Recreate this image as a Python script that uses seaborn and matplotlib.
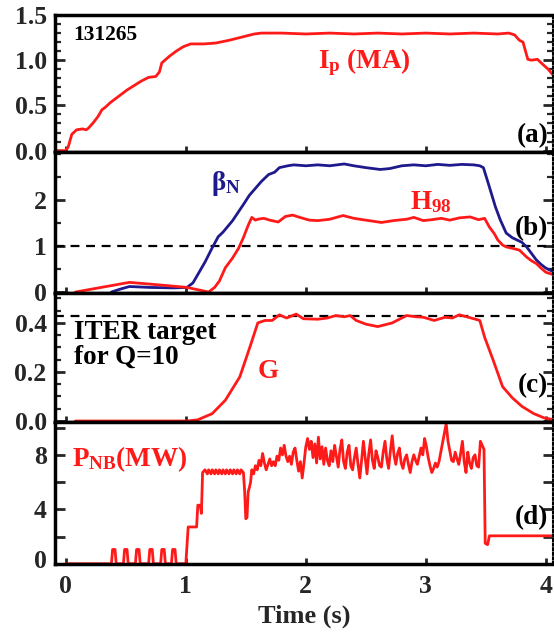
import matplotlib
matplotlib.use("Agg")
import matplotlib.pyplot as plt
import matplotlib.transforms as mtransforms
from matplotlib.ticker import MultipleLocator, FixedLocator
import seaborn as sns

sns.set_style("ticks")
plt.rcParams["font.family"] = ["Liberation Serif", "DejaVu Serif"]
plt.rcParams["font.weight"] = "bold"
plt.rcParams["mathtext.fontset"] = "custom"
plt.rcParams["mathtext.rm"] = "Liberation Serif:bold"
plt.rcParams["mathtext.it"] = "Liberation Serif:bold:italic"
plt.rcParams["mathtext.bf"] = "Liberation Serif:bold"
plt.rcParams["axes.linewidth"] = 2.5

RED = "#ff1a1a"
NAVY = "#1f1a8c"

# ---------------- data ----------------
shot_number = "131265"

ip_t = [-0.09, 0.0, 0.02, 0.05, 0.09, 0.14, 0.17, 0.19, 0.23, 0.27, 0.30, 0.33,
        0.37, 0.42, 0.46, 0.51, 0.57, 0.63, 0.69, 0.75, 0.78, 0.80, 0.86, 0.92,
        0.98, 1.04, 1.15, 1.25, 1.36, 1.45, 1.51, 1.57, 1.63, 1.8, 2.0, 2.2,
        2.4, 2.6, 2.8, 3.0, 3.2, 3.4, 3.6, 3.69, 3.74, 3.78, 3.81, 3.85, 3.88,
        3.93, 3.97, 4.02, 4.07]
ip_v = [0.0, 0.0, 0.04, 0.18, 0.23, 0.24, 0.23, 0.25, 0.31, 0.38, 0.45, 0.48,
        0.53, 0.58, 0.62, 0.67, 0.72, 0.77, 0.81, 0.82, 0.87, 0.97, 1.04, 1.10,
        1.15, 1.18, 1.18, 1.19, 1.22, 1.25, 1.27, 1.29, 1.30, 1.30, 1.29, 1.30,
        1.29, 1.30, 1.29, 1.30, 1.29, 1.30, 1.29, 1.30, 1.28, 1.22, 1.20, 1.01,
        1.00, 1.01, 0.96, 0.90, 0.82]

beta_t = [0.38, 0.45, 0.53, 0.7, 0.9, 1.01, 1.06, 1.1, 1.16, 1.22, 1.27, 1.31,
          1.39, 1.48, 1.53, 1.57, 1.63, 1.69, 1.74, 1.78, 1.85, 1.9, 2.0, 2.1,
          2.2, 2.32, 2.4, 2.5, 2.62, 2.7, 2.8, 2.9, 3.0, 3.1, 3.2, 3.3, 3.4,
          3.45, 3.48, 3.53, 3.58, 3.62, 3.67, 3.72, 3.76, 3.8, 3.84, 3.88, 3.92,
          3.96, 4.0, 4.07]
beta_v = [0.0, 0.06, 0.12, 0.1, 0.09, 0.1, 0.2, 0.38, 0.65, 0.96, 1.2, 1.3,
          1.55, 1.9, 2.1, 2.22, 2.4, 2.55, 2.6, 2.7, 2.74, 2.76, 2.74, 2.76,
          2.74, 2.78, 2.74, 2.70, 2.66, 2.68, 2.74, 2.76, 2.74, 2.77, 2.75,
          2.77, 2.76, 2.74, 2.70, 2.28, 1.85, 1.57, 1.28, 1.18, 1.13, 1.08,
          0.98, 0.84, 0.70, 0.60, 0.52, 0.43]

h98_t = [0.08, 0.53, 0.8, 1.01, 1.19, 1.24, 1.28, 1.33, 1.39, 1.44, 1.48, 1.52,
         1.55, 1.58, 1.6, 1.65, 1.7, 1.77, 1.83, 1.89, 1.95, 2.03, 2.1, 2.2,
         2.31, 2.4, 2.5, 2.63, 2.73, 2.84, 2.9, 2.98, 3.05, 3.13, 3.2, 3.28,
         3.37, 3.44, 3.49, 3.53, 3.57, 3.6, 3.64, 3.67, 3.72, 3.78, 3.84, 3.88,
         3.92, 3.96, 4.0, 4.07]
h98_v = [0.0, 0.21, 0.15, 0.1, 0.0, 0.1, 0.24, 0.53, 0.74, 0.95, 1.18, 1.45,
         1.62, 1.56, 1.58, 1.6, 1.56, 1.52, 1.64, 1.67, 1.62, 1.56, 1.55, 1.58,
         1.66, 1.6, 1.56, 1.51, 1.55, 1.58, 1.62, 1.55, 1.57, 1.60, 1.56, 1.61,
         1.63, 1.57, 1.6, 1.41, 1.27, 1.13, 1.02, 0.98, 0.95, 0.91, 0.76, 0.68,
         0.62, 0.52, 0.43, 0.37]

g_t = [0.08, 1.01, 1.1, 1.22, 1.33, 1.45, 1.54, 1.6, 1.66, 1.72, 1.78, 1.84,
       1.92, 1.98, 2.1, 2.18, 2.25, 2.32, 2.37, 2.42, 2.5, 2.6, 2.72, 2.84,
       2.92, 2.98, 3.07, 3.16, 3.22, 3.28, 3.34, 3.4, 3.45, 3.49, 3.56, 3.64,
       3.72, 3.8, 3.9, 3.99, 4.07]
g_v = [0.0, 0.0, 0.005, 0.03, 0.085, 0.18, 0.31, 0.40, 0.41, 0.41, 0.433,
       0.42, 0.436, 0.417, 0.415, 0.42, 0.43, 0.425, 0.43, 0.41, 0.395, 0.385,
       0.40, 0.43, 0.425, 0.423, 0.41, 0.423, 0.42, 0.433, 0.425, 0.417, 0.41,
       0.342, 0.25, 0.14, 0.095, 0.06, 0.03, 0.012, 0.005]
iter_target = 0.43

pnb_t = [0.0, 0.38, 0.39, 0.41, 0.42, 0.48, 0.49, 0.51, 0.52, 0.58, 0.59, 0.61,
         0.62, 0.69, 0.70, 0.72, 0.73, 0.79, 0.80, 0.82, 0.83, 0.88, 0.89, 0.91,
         0.92, 1.0, 1.02, 1.09, 1.10, 1.12, 1.13, 1.14, 1.16, 1.18, 1.19, 1.21,
         1.22, 1.24, 1.25, 1.27, 1.28, 1.30, 1.31, 1.33, 1.34, 1.36, 1.37, 1.39,
         1.40, 1.42, 1.43, 1.45, 1.46, 1.48, 1.49, 1.50, 1.51, 1.52, 1.53, 1.54,
         1.55, 1.565, 1.58, 1.595, 1.61, 1.625, 1.64, 1.655, 1.67, 1.685, 1.70,
         1.715, 1.73, 1.745, 1.76, 1.775, 1.79, 1.805, 1.82, 1.835, 1.85, 1.865,
         1.88, 1.895, 1.91, 1.925, 1.94, 1.955, 1.97, 1.985, 2.00, 2.015, 2.03,
         2.045, 2.06, 2.075, 2.09, 2.105, 2.12, 2.135, 2.15, 2.165, 2.18, 2.195,
         2.21, 2.225, 2.24, 2.255, 2.27, 2.285, 2.30, 2.315, 2.33, 2.345, 2.36,
         2.375, 2.39, 2.405, 2.42, 2.435, 2.45, 2.465, 2.48, 2.495, 2.51, 2.525,
         2.54, 2.555, 2.57, 2.585, 2.60, 2.615, 2.63, 2.645, 2.66, 2.675, 2.69,
         2.705, 2.72, 2.735, 2.75, 2.765, 2.78, 2.795, 2.81, 2.825, 2.84, 2.855,
         2.87, 2.885, 2.90, 2.915, 2.93, 2.945, 2.96, 2.975, 2.99, 3.005, 3.02,
         3.035, 3.05, 3.065, 3.08, 3.095, 3.11, 3.125, 3.14, 3.155, 3.17, 3.185,
         3.20, 3.215, 3.23, 3.245, 3.26, 3.275, 3.29, 3.305, 3.32, 3.335, 3.35,
         3.365, 3.38, 3.395, 3.41, 3.425, 3.44, 3.455, 3.47, 3.485, 3.495, 3.515,
         3.53, 4.07]
pnb_v = [0.0, 0.0, 1.05, 1.05, 0.0, 0.0, 1.05, 1.05, 0.0, 0.0, 1.05, 1.05,
         0.0, 0.0, 1.05, 1.05, 0.0, 0.0, 1.05, 1.05, 0.0, 0.0, 1.05, 1.05,
         0.0, 0.0, 2.7, 2.7, 4.3, 4.3, 3.7, 6.7, 6.9, 6.6, 6.9, 6.6,
         6.9, 6.6, 6.9, 6.6, 6.9, 6.6, 6.9, 6.6, 6.9, 6.6, 6.9, 6.6,
         6.9, 6.6, 6.9, 6.6, 6.9, 6.7, 5.4, 3.3, 3.4, 5.3, 5.6, 6.0,
         6.9, 6.6, 7.2, 6.9, 7.6, 7.2, 8.1, 7.4, 6.9, 7.3, 7.7,
         7.2, 7.5, 7.2, 7.9, 7.6, 8.5, 8.0, 8.7, 7.9, 7.5, 7.9,
         7.3, 8.2, 8.5, 7.6, 6.8, 7.5, 6.3, 7.4, 8.6, 9.2, 8.4,
         9.0, 7.8, 8.8, 7.4, 9.3, 7.7, 8.6, 7.3, 8.5, 7.6, 7.2,
         8.3, 7.5, 8.7, 7.9, 7.1, 8.4, 9.1, 7.5, 7.0, 8.2, 8.7,
         7.2, 6.9, 7.8, 8.5, 7.3, 6.3, 7.6, 9.0, 7.8, 6.6, 8.1,
         9.1, 7.6, 7.0, 8.3, 7.8, 7.2, 7.1, 8.2, 9.0, 7.7, 7.0,
         8.3, 9.4, 8.0, 7.3, 8.1, 8.5, 7.4, 7.0, 7.7, 8.0, 7.3,
         6.7, 7.5, 8.0, 7.6, 7.3, 7.9, 8.5, 8.0, 9.2, 8.6, 7.8,
         7.2, 6.7, 7.0, 7.4, 7.1, 7.5, 8.2, 8.9, 9.6, 10.3, 9.0,
         8.3, 7.6, 7.5, 8.2, 7.7, 7.3, 8.1, 9.0, 7.5, 6.7, 8.2,
         7.4, 7.0, 7.8, 8.0, 7.2, 7.1, 9.0, 8.7, 8.4, 1.5, 1.4,
         2.05, 2.05]

x_ticks = [0, 1, 2, 3, 4]

# ---------------- figure ----------------
fig = plt.figure(figsize=(5.54, 6.36), dpi=100)
LEFT, RIGHT = 55, 553


def rect(top, bot):
    return [LEFT / 554, 1 - bot / 636, (RIGHT - LEFT) / 554, (bot - top) / 636]


ax_a = fig.add_axes(rect(15, 151.5))
ax_b = fig.add_axes(rect(151.5, 292.5))
ax_c = fig.add_axes(rect(292.5, 421.5))
ax_d = fig.add_axes(rect(421.5, 564))
axes = [ax_a, ax_b, ax_c, ax_d]

LW = 2.0
sns.lineplot(x=ip_t, y=ip_v, ax=ax_a, color=RED, lw=LW, estimator=None, sort=False)
sns.lineplot(x=beta_t, y=beta_v, ax=ax_b, color=NAVY, lw=LW, estimator=None, sort=False)
sns.lineplot(x=h98_t, y=h98_v, ax=ax_b, color=RED, lw=LW, estimator=None, sort=False)
sns.lineplot(x=g_t, y=g_v, ax=ax_c, color=RED, lw=LW, estimator=None, sort=False)
sns.lineplot(x=pnb_t, y=pnb_v, ax=ax_d, color=RED, lw=LW, estimator=None, sort=False)

ax_b.axhline(1.0, color="black", lw=1.6, ls=(0, (4, 3)), zorder=1)
ax_c.axhline(iter_target, color="black", lw=1.6, ls=(0, (4, 3)), zorder=1)

ylims = [(-0.01, 1.5), (-0.01, 3.05), (-0.002, 0.524), (-0.02, 10.45)]
major_ticks = [[0.0, 0.5, 1.0, 1.5], [0, 1, 2], [0.0, 0.2, 0.4], [0, 4, 8]]
major_labels = [["0.0", "0.5", "1.0", "1.5"], ["0", "1", "2"],
                ["0.0", "0.2", "0.4"], ["0", "4", "8"]]
minor = [0.1, 0.5, 0.05, 2.0]

for i, ax in enumerate(axes):
    ax.set_xlim(-0.09, 4.06)
    ax.set_ylim(*ylims[i])
    ax.set_xlabel("")
    ax.set_ylabel("")
    ax.yaxis.set_major_locator(FixedLocator(major_ticks[i]))
    ax.set_yticklabels(major_labels[i])
    ax.yaxis.set_minor_locator(MultipleLocator(minor[i]))
    ax.xaxis.set_major_locator(FixedLocator(x_ticks))
    for s in ax.spines.values():
        s.set_visible(True)
        s.set_linewidth(2.5)
        s.set_color("black")
    ax.spines["right"].set_linestyle((0, (1, 1.2)))
    ax.spines["right"].set_linewidth(1.5)
    ax.tick_params(axis="y", which="major", direction="in", left=True, right=True,
                   length=7, width=2, labelsize=18.5, pad=6)
    ax.tick_params(axis="y", which="minor", direction="in", left=True, right=True,
                   length=4, width=1.6)
    ax.tick_params(axis="x", which="major", direction="in", bottom=True, top=False,
                   length=4, width=2, labelsize=18.5, pad=8)
    ax.tick_params(axis="x", which="minor", bottom=False, top=False)
    if i < 3:
        ax.tick_params(axis="x", labelbottom=False)
    ax.set_facecolor("white")

ax_d.tick_params(axis="y", which="minor", length=7, width=2)

# raise the "0" label of panel (d) slightly, as in the original
fig.canvas.draw()
for lbl in ax_d.get_yticklabels():
    if lbl.get_text() == "0":
        lbl.set_transform(lbl.get_transform() +
                          mtransforms.ScaledTranslation(0, 5 / 100, fig.dpi_scale_trans))

ax_d.set_xlabel("Time (s)", fontsize=19, fontweight="bold", labelpad=5)

# ---------------- annotations ----------------
TS = 19.5
ax_a.text(0.06, 1.28, shot_number, fontsize=15.5, fontweight="bold", color="black",
          ha="left", va="center")
ax_a.text(2.10, 0.98, "I$_\\mathrm{p}$ (MA)", fontsize=TS, color=RED, ha="left", va="center")
ax_a.text(4.02, 0.17, "(a)", fontsize=TS, color="black", ha="right", va="center")

ax_b.text(1.21, 2.35, "β$_\\mathrm{N}$", fontsize=TS, color=NAVY, ha="left", va="center")
ax_b.text(2.87, 1.95, "H$_\\mathrm{98}$", fontsize=TS, color=RED, ha="left", va="center")
ax_b.text(4.02, 1.38, "(b)", fontsize=TS, color="black", ha="right", va="center")

ax_c.text(0.07, 0.31, "ITER target\nfor Q=10", fontsize=TS, color="black",
          ha="left", va="center", linespacing=0.95)
ax_c.text(1.60, 0.20, "G", fontsize=TS, color=RED, ha="left", va="center")
ax_c.text(4.02, 0.145, "(c)", fontsize=TS, color="black", ha="right", va="center")

ax_d.text(0.05, 7.7, "P$_\\mathrm{NB}$(MW)", fontsize=TS, color=RED, ha="left", va="center")
ax_d.text(4.02, 3.4, "(d)", fontsize=TS, color="black", ha="right", va="center")

fig.savefig("out.png", dpi=100)
